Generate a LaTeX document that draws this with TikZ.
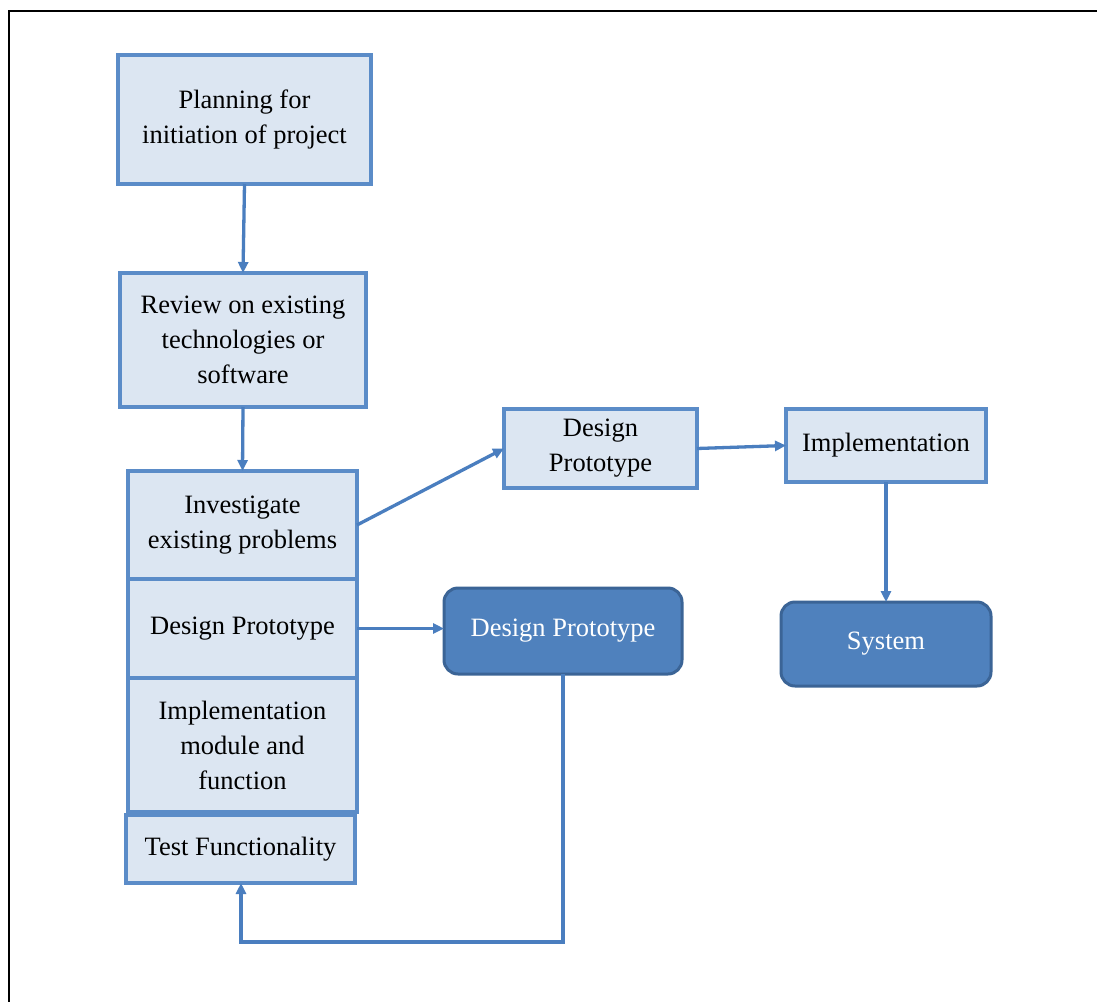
\documentclass[tikz,border=0pt]{standalone}
\usepackage{fontspec}
\setmainfont{Liberation Serif}
\usetikzlibrary{arrows.meta,calc}
\definecolor{lightf}{HTML}{DCE6F2}
\definecolor{boxb}{HTML}{5B8CC8}
\definecolor{darkf}{HTML}{4F81BD}
\definecolor{darkb}{HTML}{3B6496}
\definecolor{arrc}{HTML}{4A7EBF}
\newcommand{\boxfont}{\fontsize{26.5}{35}\selectfont}
\tikzset{
  lightbox/.style={draw=boxb, fill=lightf, line width=3.5pt, inner sep=0pt, outer sep=0pt,
    align=center, font=\boxfont, anchor=north west},
  darkbox/.style={draw=darkb, fill=darkf, line width=3pt, rounded corners=14pt, inner sep=0pt,
    outer sep=0pt, align=center, font=\boxfont, text=white, anchor=north west},
  arr/.style={draw=arrc, line width=3.3pt, -{Triangle[length=11pt,width=10pt]}},
  frame/.style={draw=black, line width=2pt}
}
\begin{document}
\begin{tikzpicture}[x=1pt,y=-1pt]
\useasboundingbox (0,0) rectangle (1097,1001);
\fill[white] (0,0) rectangle (1097,1001);
\draw[frame] (9,1003) -- (9,11) -- (1099,11);

\node[lightbox, minimum width=253pt, minimum height=129pt] (b1) at (118,55) {Planning for\\initiation of project};
\node[lightbox, minimum width=246pt, minimum height=134pt] (b2) at (120,273) {Review on existing\\technologies or\\software};
\node[lightbox, minimum width=229pt, minimum height=108pt] (inv) at (128,471) {Investigate\\existing problems};
\node[lightbox, minimum width=229pt, minimum height=99pt] (dp2) at (128,579) {Design Prototype};
\node[lightbox, minimum width=229pt, minimum height=134pt] (imp2) at (128,678) {Implementation\\module and\\function};
\node[lightbox, minimum width=229pt, minimum height=68pt] (test) at (126,815) {Test Functionality};

\node[lightbox, minimum width=193pt, minimum height=79pt] (dpA) at (504,409) {Design\\Prototype};
\node[lightbox, minimum width=200pt, minimum height=73pt] (impl) at (786,409) {Implementation};

\node[darkbox, minimum width=238pt, minimum height=86pt] (dpB) at (444,588) {Design Prototype};
\node[darkbox, minimum width=210pt, minimum height=84pt] (sys) at (781,602) {System};

\coordinate (loop) at (241,942);

\draw[arr] (b1.south) -- (b2.north);
\draw[arr] (b2.south) -- (inv.north);
\draw[arr] (inv.east) -- (dpA.west);
\draw[arr] (dpA.east) -- (impl.west);
\draw[arr] (impl.south) -- (sys.north);
\draw[arr] (dp2.east) -- (dp2.east -| dpB.west);
\draw[arr] (dpB.south) |- (loop) -- (loop |- test.south);
\end{tikzpicture}
\end{document}
